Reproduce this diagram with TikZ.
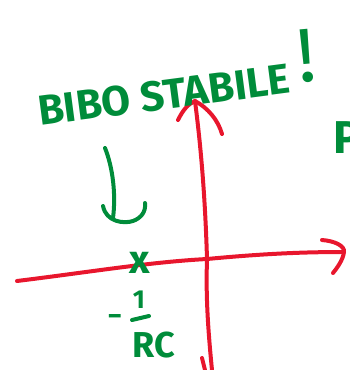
\documentclass[tikz,border=0pt]{standalone}
\usepackage{fontspec}
\setmainfont{Fira Sans}
\definecolor{pen}{RGB}{0,140,58}
\definecolor{ink}{RGB}{232,22,45}
\tikzset{
  redstroke/.style={draw=ink, line width=4pt, line cap=round, line join=round},
  greenstroke/.style={draw=pen, line width=4pt, line cap=round, line join=round},
  greentext/.style={text=pen, inner sep=0pt, font=\bfseries},
}
\begin{document}
\begin{tikzpicture}[x=1pt,y=-1pt]
\useasboundingbox (0,0) rectangle (350,370);
\clip (0,0) rectangle (350,370);
% axes
\coordinate (hs) at (17,281);
\coordinate (o) at (207,259);
\coordinate (he) at (344,252);
\coordinate (vs) at (212,370);
\coordinate (ve) at (195,101);
\draw[redstroke] (hs) .. controls (90,272) and (150,262) .. (o) .. controls (260,254) and (300,252) .. (he);
\draw[redstroke] (322,240) .. controls (335,241) and (345,246) .. (he) .. controls (343,260) and (337,268) .. (333,273);
\draw[redstroke] (vs) .. controls (207,320) and (206,290) .. (o) .. controls (205,190) and (200,140) .. (ve);
\draw[redstroke] (178,120) .. controls (183,110) and (188,104) .. (ve) .. controls (208,108) and (218,120) .. (222,134);
\draw[redstroke] (202,358) -- (205,370);
% title
\node[greentext, anchor=base west, rotate=7.5, font=\bfseries\fontsize{42}{42}\selectfont] (title) at (40,126) {BIBO STABILE};
\node[greentext, font=\fontsize{76}{76}\selectfont, rotate=5] (excl) at (306,56) {!};
\node[greentext, anchor=west, font=\bfseries\fontsize{46}{46}\selectfont] (P) at (333,138) {P};
% down arrow
\coordinate (a1) at (105,148);
\coordinate (a2) at (113,218);
\draw[greenstroke] (a1) .. controls (113,168) and (116,195) .. (a2);
\draw[greenstroke] (103,206) .. controls (106,222) and (124,224) .. (133,221) .. controls (141,218) and (146,212) .. (145,203);
% pole and label
\node[greentext, font=\bfseries\fontsize{40}{40}\selectfont] (x) at (140,263) {x};
\node[greentext, font=\bfseries\fontsize{28}{28}\selectfont] (minus) at (115,320) {−};
\node[greentext, font=\bfseries\fontsize{26}{26}\selectfont] (one) at (139,300) {1};
\coordinate (b1) at (132,320);
\coordinate (b2) at (149,316);
\draw[greenstroke] (b1) -- (b2);
\node[greentext, font=\bfseries\fontsize{36}{36}\selectfont] (rc) at (154,345) {RC};
\end{tikzpicture}
\end{document}
